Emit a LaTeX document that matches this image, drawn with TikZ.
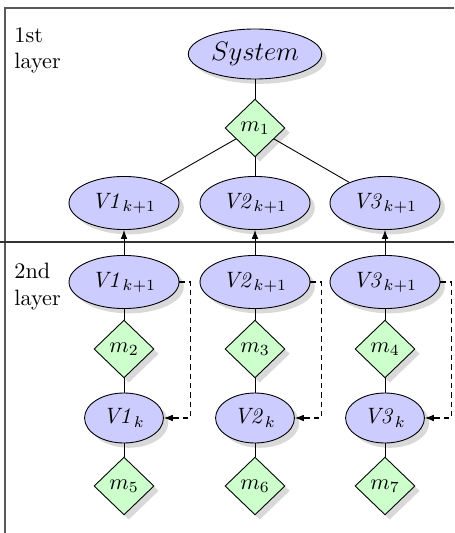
\documentclass[tikz,border=0pt]{standalone}
\usetikzlibrary{shapes.geometric,shadows,arrows.meta}

\tikzset{
  var/.style={ellipse, draw=black, fill=blue!20, inner sep=0pt,
    drop shadow={opacity=0.3}},
  topvar/.style={var, minimum width=49.5pt, minimum height=23.9pt},
  lowvar/.style={var, minimum width=35.5pt, minimum height=22.5pt},
  sysvar/.style={var, minimum width=60pt, minimum height=22.5pt, font=\large},
  meas/.style={diamond, draw=black, fill=green!20, inner sep=0pt,
    minimum width=27pt, minimum height=26pt,
    drop shadow={opacity=0.3}},
  link/.style={draw=black, line width=0.4pt},
  uparrow/.style={link, -{Latex[length=4pt,width=3pt]}},
  feedback/.style={link, line width=0.5pt, dash pattern=on 2.4pt off 1.8pt,
    -{Latex[length=4pt,width=3pt]}},
  layerlabel/.style={anchor=north west, inner sep=0pt, align=left},
  frame/.style={draw=black!65, line width=0.7pt},
  divider/.style={draw=black!80, line width=0.9pt}
}

\begin{document}
\begin{tikzpicture}[x=0.45pt, y=-0.45pt]
  \useasboundingbox (0,0) rectangle (454,533);

  % frame and layer divider
  \draw[frame] (5,533) -- (5,8) -- (454,8);
  \draw[divider] (0,242) -- (454,242);

  \node[layerlabel] (l1) at (14,27) {1st\\layer};
  \node[layerlabel] (l2) at (14,263) {2nd\\layer};

  % first layer
  \node[sysvar] (sys) at (255,54) {$System$};
  \node[meas] (m1) at (255,128) {$m_1$};
  \node[topvar] (t1) at (124,203) {$\mathit{V1}_{k+1}$};
  \node[topvar] (t2) at (255,203) {$\mathit{V2}_{k+1}$};
  \node[topvar] (t3) at (385,203) {$\mathit{V3}_{k+1}$};

  % second layer
  \node[topvar] (b1) at (124,282) {$\mathit{V1}_{k+1}$};
  \node[topvar] (b2) at (255,282) {$\mathit{V2}_{k+1}$};
  \node[topvar] (b3) at (385,282) {$\mathit{V3}_{k+1}$};

  \node[meas] (m2) at (124,349) {$m_2$};
  \node[meas] (m3) at (255,349) {$m_3$};
  \node[meas] (m4) at (385,349) {$m_4$};

  \node[lowvar] (k1) at (124,418) {$\mathit{V1}_k$};
  \node[lowvar] (k2) at (255,418) {$\mathit{V2}_k$};
  \node[lowvar] (k3) at (385,418) {$\mathit{V3}_k$};

  \node[meas] (m5) at (124,486) {$m_5$};
  \node[meas] (m6) at (255,486) {$m_6$};
  \node[meas] (m7) at (385,486) {$m_7$};

  % connectors
  \draw[link] (sys) -- (m1);
  \draw[link] (m1) -- (t1);
  \draw[link] (m1) -- (t2);
  \draw[link] (m1) -- (t3);

  \foreach \i/\m/\n in {1/2/5, 2/3/6, 3/4/7} {
    \draw[uparrow] (b\i) -- (t\i);
    \draw[link] (b\i) -- (m\m);
    \draw[link] (m\m) -- (k\i);
    \draw[link] (k\i) -- (m\n);
    \draw[feedback] (b\i.east) -- ++(11,0) |- (k\i.east);
  }
\end{tikzpicture}
\end{document}
